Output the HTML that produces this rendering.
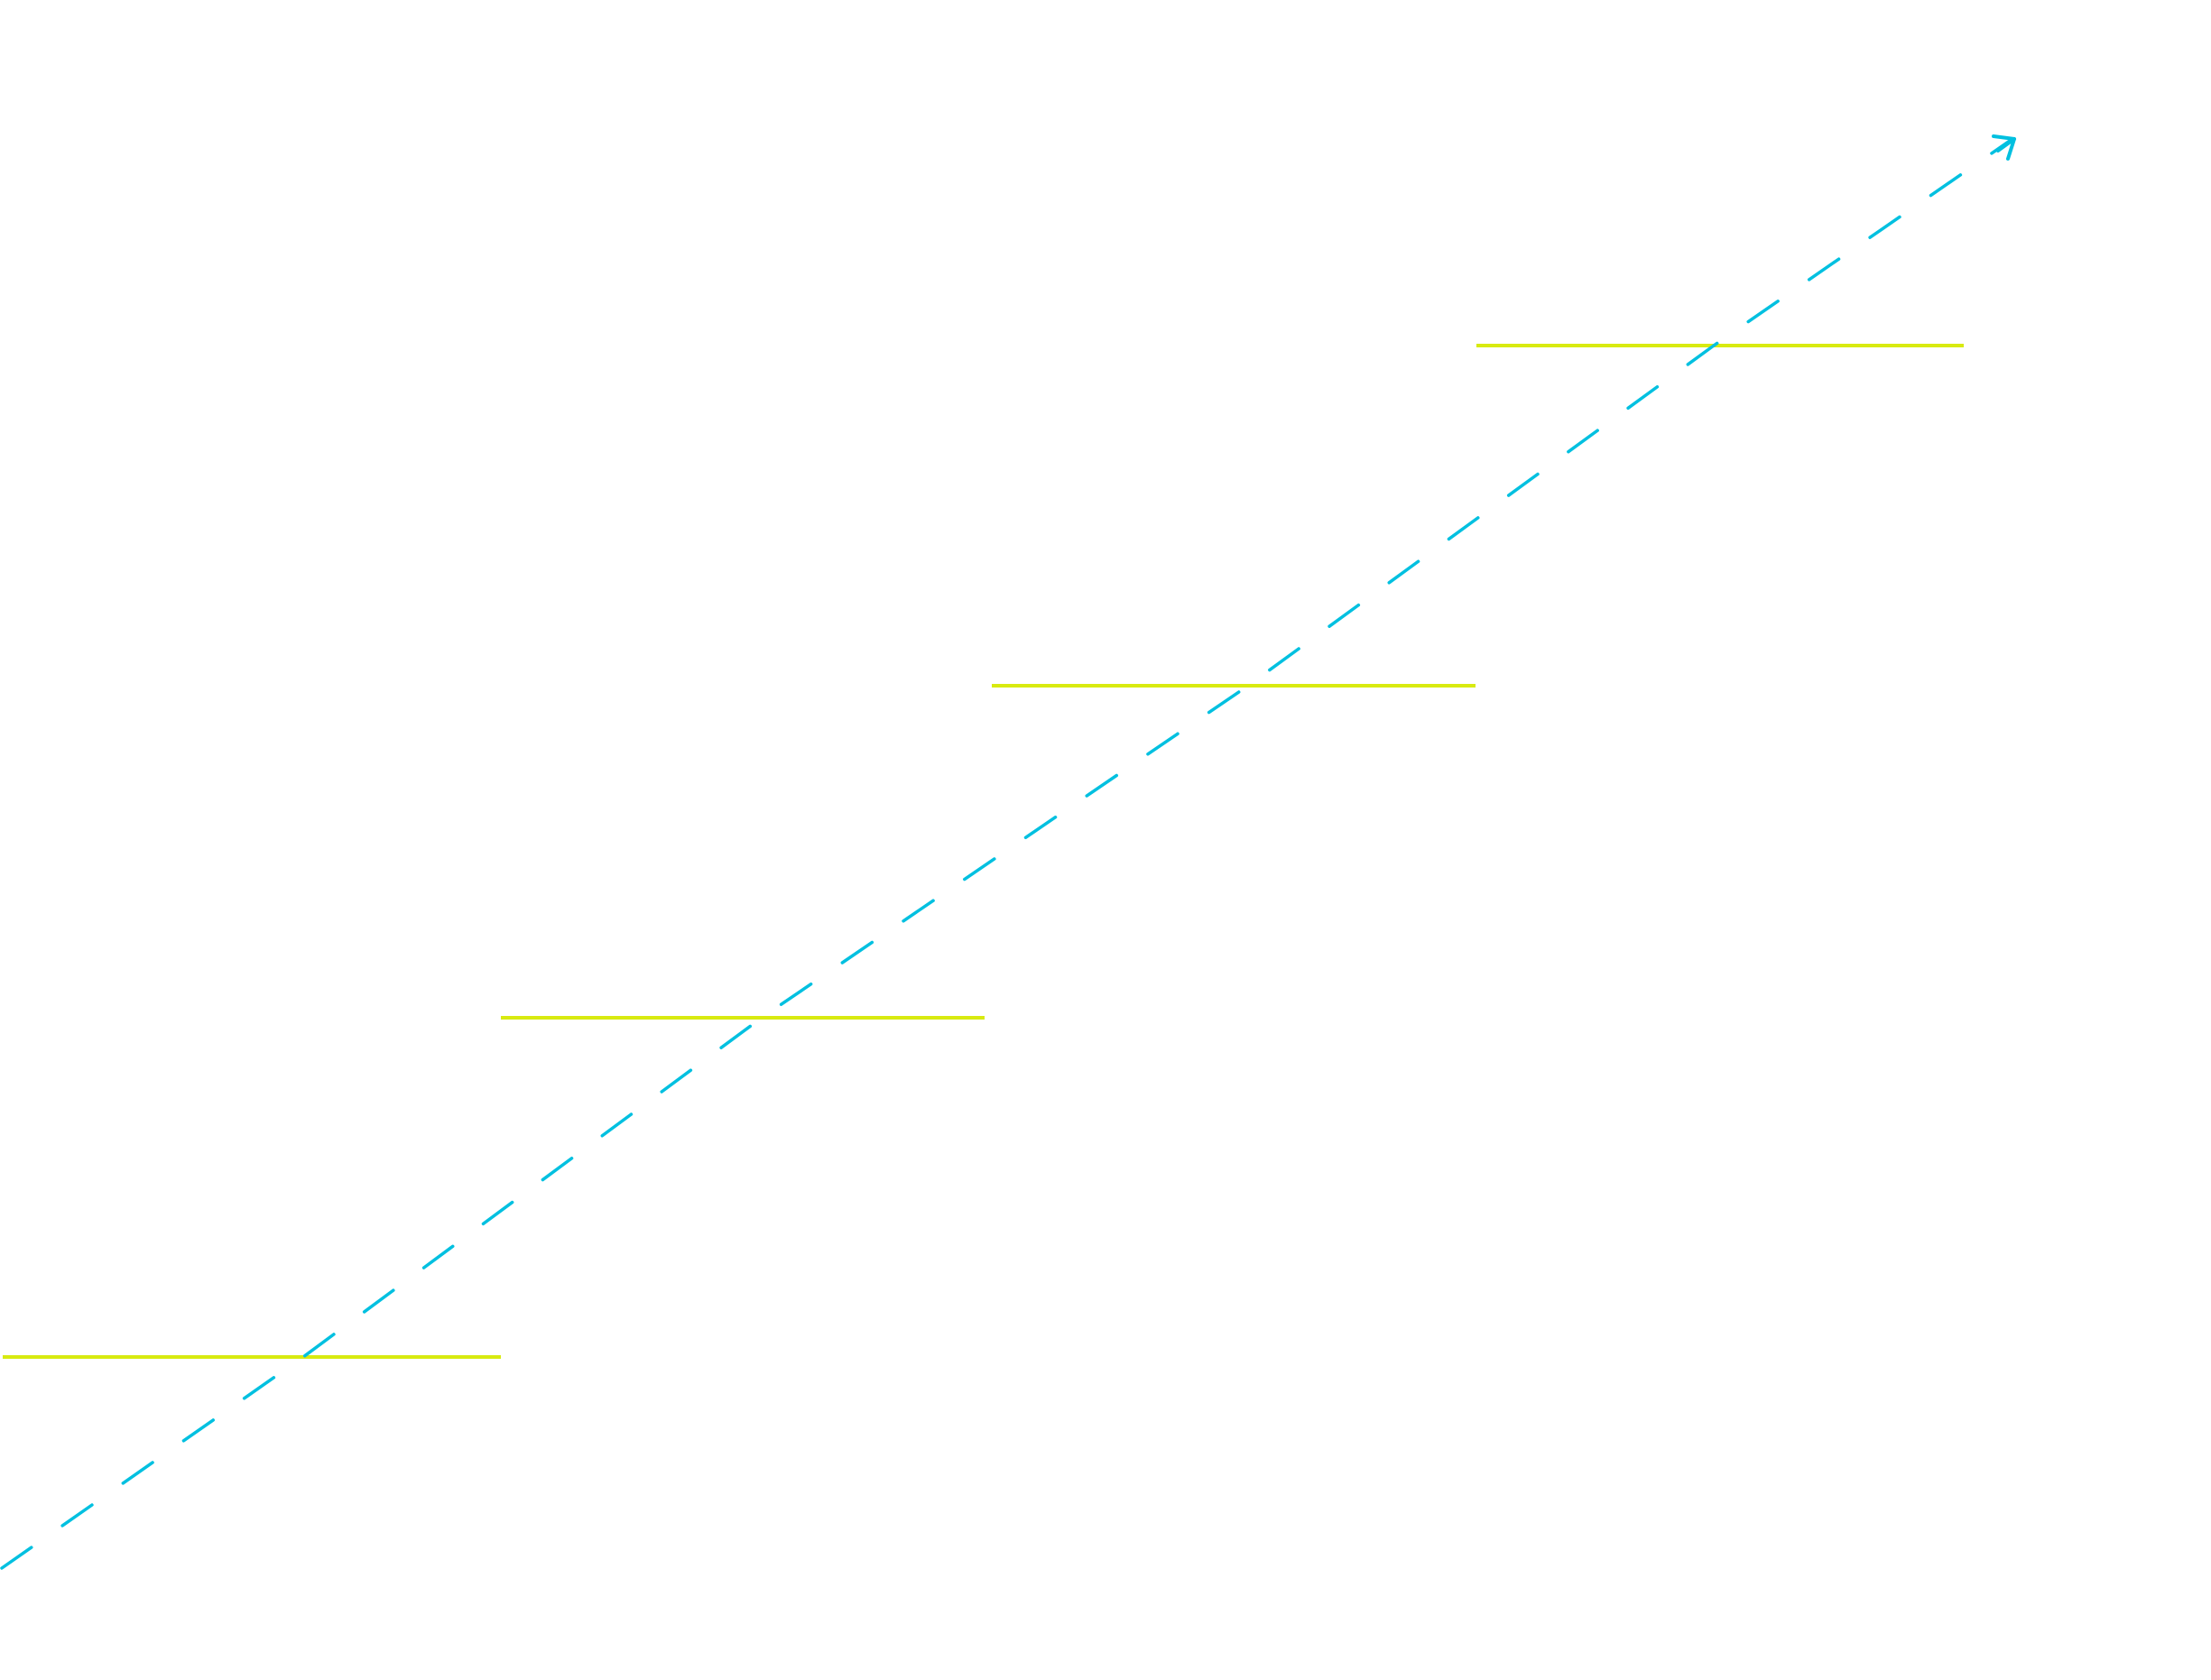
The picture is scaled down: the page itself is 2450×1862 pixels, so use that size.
<!DOCTYPE html>
<html><head><meta charset="utf-8"><style>html,body{margin:0;padding:0;background:#fff}svg{display:block}</style></head>
<body>
<svg width="2450" height="1862" viewBox="0 0 2450 1862" xmlns="http://www.w3.org/2000/svg">
<g stroke="#d8ea10" stroke-width="4" fill="none">
<line x1="3" y1="1504" x2="555" y2="1504"/>
<line x1="555" y1="1128" x2="1091" y2="1128"/>
<line x1="1099" y1="760" x2="1635" y2="760"/>
<line x1="1636" y1="383" x2="2176" y2="383"/>
</g>
<polyline points="2,1738 336,1504 844,1128 1383,760 1899,383 2230,154" fill="none" stroke="#00c0e0" stroke-width="3.5" stroke-linecap="round" stroke-dasharray="40 42"/>
<polyline points="2209,151 2232,154 2225,176" fill="none" stroke="#00c0e0" stroke-width="4" stroke-linecap="round" stroke-linejoin="round"/>
<line x1="2214" y1="167" x2="2232" y2="154" stroke="#00c0e0" stroke-width="4" stroke-linecap="round"/>
</svg>
</body></html>
